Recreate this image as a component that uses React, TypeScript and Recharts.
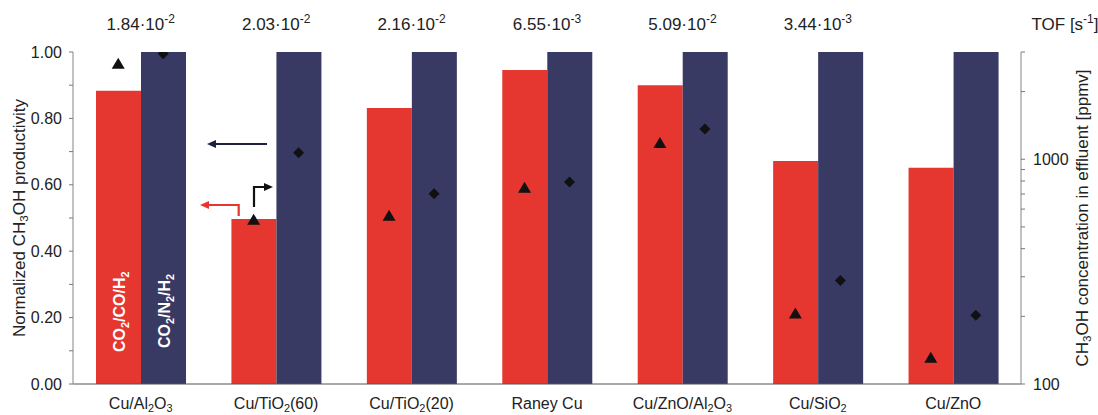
import {
  Bar,
  ComposedChart,
  Customized,
  LabelList,
  Line,
  XAxis,
  YAxis,
} from "recharts";

const categories = ["Cu/Al2O3", "Cu/TiO2(60)", "Cu/TiO2(20)", "Raney Cu", "Cu/ZnO/Al2O3", "Cu/SiO2", "Cu/ZnO"];
const tofMantissa = ["1.84", "2.03", "2.16", "6.55", "5.09", "3.44", ""];
const tofExponent = ["-2", "-2", "-2", "-3", "-2", "-3", ""];
// normalized productivity (left axis)
const prodCoCo = [0.883, 0.497, 0.831, 0.946, 0.9, 0.672, 0.651];
const prodN2 = [1.0, 1.0, 1.0, 1.0, 1.0, 1.0, 1.0];
// CH3OH in effluent, ppmv (right axis, log)
const concCoCo = [2658, 538, 561, 746, 1180, 206, 131];
const concN2 = [2950, 1069, 702, 793, 1362, 289, 202];

const leftTicks = [0, 0.1, 0.2, 0.3, 0.4, 0.5, 0.6, 0.7, 0.8, 0.9, 1.0];
const rightTicks = [100, 200, 300, 400, 500, 600, 700, 800, 900, 1000, 2000, 3000];

const RED = "#e5362f";
const NAVY = "#383a63";
const FONT = "'Liberation Sans', Arial, sans-serif";
const BAR = 45;

const data = categories.map((name, i) => ({
  name,
  tof: tofMantissa[i],
  exp: tofExponent[i],
  coco: prodCoCo[i],
  n2: prodN2[i],
  concCoco: concCoCo[i],
  concN2: concN2[i],
}));

// digits right after a letter become subscripts (Al2O3, TiO2(60) keeps 60)
function chem(s: string, size: number, shiftRatio = 0.28) {
  const parts: { t: string; sub: boolean }[] = [];
  for (let i = 0; i < s.length; i++) {
    const c = s[i];
    const sub = /[0-9]/.test(c) && i > 0 && /[A-Za-z]/.test(s[i - 1]);
    const last = parts[parts.length - 1];
    if (last && last.sub === sub && !sub) last.t += c;
    else parts.push({ t: c, sub });
  }
  const shift = Math.round(size * shiftRatio);
  const out: JSX.Element[] = [];
  let down = false;
  parts.forEach((p, k) => {
    let dy = 0;
    if (p.sub && !down) { dy = shift; down = true; }
    else if (!p.sub && down) { dy = -shift; down = false; }
    out.push(
      <tspan key={k} dy={dy || undefined} fontSize={p.sub ? size * 0.68 : size}>{p.t}</tspan>
    );
  });
  return out;
}

function CategoryTick(props: any) {
  const { x, y, payload } = props;
  return (
    <text x={x} y={y + 25} textAnchor="middle" fontSize={16} fill="#222" fontFamily={FONT}>
      {chem(payload.value, 16, 0.2)}
    </text>
  );
}

function TofTick(props: any) {
  const { x, y, index } = props;
  const m = tofMantissa[index];
  if (!m) return <g />;
  return (
    <text x={x} y={y - 22} textAnchor="middle" fontSize={17} fill="#222" fontFamily={FONT}>
      <tspan>{m}·10</tspan>
      <tspan dy={-7} fontSize={12}>{tofExponent[index]}</tspan>
    </text>
  );
}

function Triangle(props: any) {
  const { cx, cy, index } = props;
  if (cx == null || cy == null) return <g key={index} />;
  const x = cx - BAR / 2;
  return <polygon key={index} points={`${x},${cy - 6} ${x - 6.5},${cy + 5} ${x + 6.5},${cy + 5}`} fill="#111" />;
}

function Diamond(props: any) {
  const { cx, cy, index } = props;
  if (cx == null || cy == null) return <g key={index} />;
  const x = cx + BAR / 2;
  return <polygon key={index} points={`${x},${cy - 5.5} ${x + 5.5},${cy} ${x},${cy + 5.5} ${x - 5.5},${cy}`} fill="#111" />;
}

function barText(label: string, fromBottom: number) {
  return (props: any) => {
    const { x, y, width, height, index } = props;
    if (index !== 0) return null;
    const cx = x + width / 2 + 6;
    const cy = y + height - fromBottom;
    return (
      <text
        x={cx}
        y={cy}
        transform={`rotate(-90 ${cx} ${cy})`}
        fill="#fff"
        fontWeight="bold"
        fontSize={16}
        fontFamily={FONT}
      >
        {chem(label, 16)}
      </text>
    );
  };
}

function Annotations() {
  return (
    <g>
      <text x={1065} y={30} textAnchor="middle" fontSize={17} fill="#222" fontFamily={FONT}>
        <tspan>TOF [s</tspan>
        <tspan dy={-7} fontSize={12}>-1</tspan>
        <tspan dy={7}>]</tspan>
      </text>
      {/* navy arrow -> left axis */}
      <path d="M267 144 H214" stroke="#1f2142" strokeWidth={2.2} fill="none" />
      <polygon points="207,144 216,140 216,148" fill="#1f2142" />
      {/* red arrow */}
      <path d="M238.7 216 V205 H207" stroke={RED} strokeWidth={2.2} fill="none" />
      <polygon points="200,205 209,201 209,209" fill={RED} />
      {/* black arrow -> right axis */}
      <path d="M254 207 V187 H266" stroke="#111" strokeWidth={2.2} fill="none" />
      <polygon points="273,187 264,183 264,191" fill="#111" />
    </g>
  );
}

export default function App() {
  return (
    <div style={{ position: "absolute", left: 0, top: 0, background: "#fff" }}>
      <ComposedChart
        width={1098}
        height={415}
        data={data}
        margin={{ top: 0, right: 0, bottom: 0, left: 0 }}
        barGap={0}
      >
        <XAxis
          xAxisId="bottom"
          dataKey="name"
          height={31}
          interval={0}
          tickLine={false}
          tickSize={0}
          tickMargin={0}
          axisLine={{ stroke: "#555", strokeWidth: 1.2 }}
          tick={CategoryTick}
        />
        <XAxis
          xAxisId="top"
          orientation="top"
          dataKey="name"
          height={52}
          interval={0}
          tickLine={false}
          tickSize={0}
          tickMargin={0}
          axisLine={false}
          tick={TofTick}
        />
        <YAxis
          yAxisId="left"
          width={73}
          domain={[0, 1]}
          ticks={leftTicks}
          interval={0}
          tickSize={4}
          tickMargin={7}
          axisLine={{ stroke: "#999", strokeWidth: 1.2 }}
          tickLine={{ stroke: "#777" }}
          tick={{ fontSize: 16, fill: "#222", fontFamily: FONT }}
          tickFormatter={(v: number) => (Math.round(v * 10) % 2 === 0 ? v.toFixed(2) : "")}
          label={{
            content: (p: any) => {
              const cx = 19;
              const cy = p.viewBox.y + p.viewBox.height / 2;
              return (
                <text x={cx} y={cy} transform={`rotate(-90 ${cx} ${cy})`} textAnchor="middle" dominantBaseline="central" fontSize={17} fill="#222" fontFamily={FONT}>
                  {chem("Normalized CH3OH productivity", 17)}
                </text>
              );
            },
          }}
        />
        <YAxis
          yAxisId="right"
          orientation="right"
          width={77}
          scale="log"
          domain={[100, 3000]}
          allowDataOverflow
          ticks={rightTicks}
          interval={0}
          tickSize={4}
          tickMargin={8}
          axisLine={{ stroke: "#999", strokeWidth: 1.2 }}
          tickLine={{ stroke: "#777" }}
          tick={{ fontSize: 16, fill: "#222", fontFamily: FONT }}
          tickFormatter={(v: number) => (v === 100 || v === 1000 ? String(v) : "")}
          label={{
            content: (p: any) => {
              const cx = p.viewBox.x + 61;
              const cy = p.viewBox.y + p.viewBox.height / 2;
              return (
                <text x={cx} y={cy} transform={`rotate(-90 ${cx} ${cy})`} textAnchor="middle" dominantBaseline="central" fontSize={17} fill="#222" fontFamily={FONT}>
                  {chem("CH3OH concentration in effluent [ppmv]", 17)}
                </text>
              );
            },
          }}
        />
        <Bar xAxisId="bottom" yAxisId="left" dataKey="coco" fill={RED} barSize={BAR} isAnimationActive={false}>
          <LabelList dataKey="coco" content={barText("CO2/CO/H2", 32)} />
        </Bar>
        <Bar xAxisId="bottom" yAxisId="left" dataKey="n2" fill={NAVY} barSize={BAR} isAnimationActive={false}>
          <LabelList dataKey="n2" content={barText("CO2/N2/H2", 36)} />
        </Bar>
        <Line
          xAxisId="bottom"
          yAxisId="right"
          dataKey="concCoco"
          stroke="none"
          dot={Triangle}
          activeDot={false}
          isAnimationActive={false}
        />
        <Line
          xAxisId="bottom"
          yAxisId="right"
          dataKey="concN2"
          stroke="none"
          dot={Diamond}
          activeDot={false}
          isAnimationActive={false}
        />
        <Customized component={Annotations} />
      </ComposedChart>
    </div>
  );
}
